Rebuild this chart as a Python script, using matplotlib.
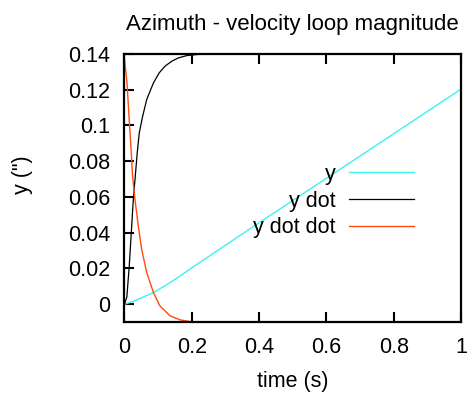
import matplotlib
matplotlib.use("Agg")
import matplotlib.pyplot as plt

plt.rcParams["font.family"] = ["Liberation Sans", "DejaVu Sans"]

# ── Step response samples (time in s) ─────────────────────────────────────────
t_y = [0.0, 0.0065, 0.026, 0.05, 0.086, 0.115, 0.145, 0.224, 0.393, 0.52, 0.685, 0.85, 1.0]
y = [0.0, 0.0003, 0.0016, 0.0035, 0.0065, 0.0097, 0.0132, 0.0234, 0.0447, 0.0605, 0.081,
     0.1016, 0.1203]

t_ydot = [0.0, 0.007, 0.014, 0.026, 0.038, 0.044, 0.054, 0.066, 0.086, 0.103, 0.120,
          0.140, 0.160, 0.185, 0.215, 0.26, 1.0]
y_dot = [0.0, 0.004, 0.021, 0.058, 0.085, 0.0959, 0.1052, 0.1145, 0.1238, 0.1294,
         0.1331, 0.1359, 0.1378, 0.1391, 0.1397, 0.1400, 0.1400]

t_ydd = [0.0, 0.0074, 0.0134, 0.0195, 0.024, 0.031, 0.041, 0.051, 0.066, 0.086, 0.105,
         0.135, 0.165, 0.20, 0.25, 1.0]
y_dot_dot = [0.137, 0.124, 0.105, 0.0866, 0.0717, 0.0587, 0.0437, 0.0307, 0.0177,
             0.0065, -0.0009, -0.0065, -0.0088, -0.0099, -0.0104, -0.0110]

x_ticks = [0, 0.2, 0.4, 0.6, 0.8, 1]
x_labels = ["0", "0.2", "0.4", "0.6", "0.8", "1"]
y_ticks = [0, 0.02, 0.04, 0.06, 0.08, 0.1, 0.12, 0.14]
y_labels = ["0", "0.02", "0.04", "0.06", "0.08", "0.1", "0.12", "0.14"]

FS = 15.5

fig = plt.figure(figsize=(4.77, 3.94), dpi=100)
ax = fig.add_axes([0.261, 0.1827, 0.7055, 0.6803])

ax.plot(t_y, y, color="#3cf2f2", lw=1.0, label="y")
ax.plot(t_ydot, y_dot, color="black", lw=0.9, label="y dot")
ax.plot(t_ydd, y_dot_dot, color="#ff4a12", lw=1.0, label="y dot dot")

ax.set_xlim(0, 1)
ax.set_ylim(-0.01, 0.14)
ax.set_xticks(x_ticks, x_labels)
ax.set_yticks(y_ticks, y_labels)

for s in ax.spines.values():
    s.set_linewidth(1.6)
ax.tick_params(axis="both", direction="in", length=7, width=1.5, labelsize=FS)
ax.tick_params(axis="x", top=True, pad=11)
ax.tick_params(axis="y", right=False, pad=10)

ax.set_title("Azimuth - velocity loop magnitude", fontsize=16, pad=17)
ax.set_xlabel("time (s)", fontsize=FS, labelpad=9)
ax.set_ylabel('y (")', fontsize=FS)
ax.yaxis.set_label_coords(-0.272, 0.55)

ax.legend(loc="upper right", bbox_to_anchor=(0.86, 0.59), frameon=False,
          markerfirst=False, fontsize=FS, handlelength=3.0, handletextpad=0.65,
          labelspacing=0.27, borderpad=0, borderaxespad=0)

fig.savefig("out.png", dpi=100)
